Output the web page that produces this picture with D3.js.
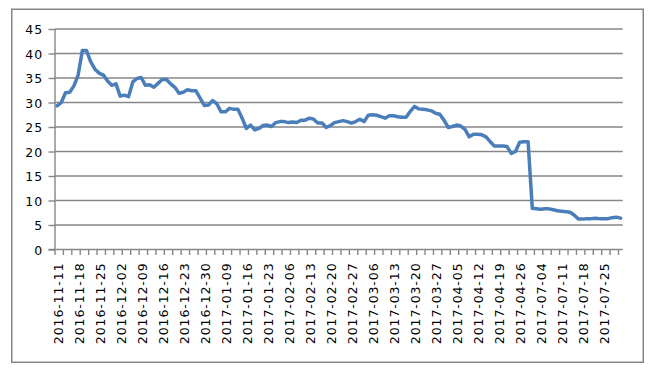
<!DOCTYPE html>
<html>
<head>
<meta charset="utf-8">
<script src="https://cdn.jsdelivr.net/npm/d3@7"></script>
<style>
  html, body { margin: 0; padding: 0; background: #fff; }
  svg { display: block; }
  text { font-family: "DejaVu Sans", Verdana, sans-serif; fill: #000; }
</style>
</head>
<body>
<svg id="chart" width="651" height="370"></svg>
<script>
const dates = [
  "2016-11-11",
  "2016-11-14","2016-11-15","2016-11-16","2016-11-17","2016-11-18",
  "2016-11-21","2016-11-22","2016-11-23","2016-11-24","2016-11-25",
  "2016-11-28","2016-11-29","2016-11-30","2016-12-01","2016-12-02",
  "2016-12-05","2016-12-06","2016-12-07","2016-12-08","2016-12-09",
  "2016-12-12","2016-12-13","2016-12-14","2016-12-15","2016-12-16",
  "2016-12-19","2016-12-20","2016-12-21","2016-12-22","2016-12-23",
  "2016-12-26","2016-12-27","2016-12-28","2016-12-29","2016-12-30",
  "2017-01-03","2017-01-04","2017-01-05","2017-01-06","2017-01-09",
  "2017-01-10","2017-01-11","2017-01-12","2017-01-13","2017-01-16",
  "2017-01-17","2017-01-18","2017-01-19","2017-01-20","2017-01-23",
  "2017-01-24","2017-01-25","2017-01-26","2017-02-03","2017-02-06",
  "2017-02-07","2017-02-08","2017-02-09","2017-02-10","2017-02-13",
  "2017-02-14","2017-02-15","2017-02-16","2017-02-17","2017-02-20",
  "2017-02-21","2017-02-22","2017-02-23","2017-02-24","2017-02-27",
  "2017-02-28","2017-03-01","2017-03-02","2017-03-03","2017-03-06",
  "2017-03-07","2017-03-08","2017-03-09","2017-03-10","2017-03-13",
  "2017-03-14","2017-03-15","2017-03-16","2017-03-17","2017-03-20",
  "2017-03-21","2017-03-22","2017-03-23","2017-03-24","2017-03-27",
  "2017-03-28","2017-03-29","2017-03-30","2017-03-31","2017-04-05",
  "2017-04-06","2017-04-07","2017-04-10","2017-04-11","2017-04-12",
  "2017-04-13","2017-04-14","2017-04-17","2017-04-18","2017-04-19",
  "2017-04-20","2017-04-21","2017-04-24","2017-04-25","2017-04-26",
  "2017-04-27","2017-04-28","2017-05-02","2017-07-03","2017-07-04",
  "2017-07-05","2017-07-06","2017-07-07","2017-07-10","2017-07-11",
  "2017-07-12","2017-07-13","2017-07-14","2017-07-17","2017-07-18",
  "2017-07-19","2017-07-20","2017-07-21","2017-07-24","2017-07-25",
  "2017-07-26","2017-07-27","2017-07-28","2017-07-31"
];

const values = [
  29.3, 30.0, 32.0, 32.1, 33.4, 35.6, 40.6, 40.6, 38.3, 36.8,
  36.0, 35.6, 34.4, 33.5, 33.8, 31.3, 31.5, 31.2, 34.2, 34.9,
  35.1, 33.5, 33.6, 33.1, 33.9, 34.7, 34.7, 33.8, 33.1, 31.9,
  32.1, 32.6, 32.4, 32.4, 30.9, 29.4, 29.5, 30.4, 29.7, 28.1,
  28.1, 28.8, 28.6, 28.6, 26.8, 24.7, 25.4, 24.4, 24.7, 25.3,
  25.4, 25.1, 25.9, 26.1, 26.1, 25.9, 26.0, 25.9, 26.4, 26.4,
  26.8, 26.6, 25.8, 25.8, 24.9, 25.3, 25.9, 26.1, 26.3, 26.1,
  25.8, 26.1, 26.6, 26.1, 27.4, 27.5, 27.4, 27.1, 26.8, 27.3,
  27.3, 27.1, 27.0, 27.0, 28.2, 29.2, 28.7, 28.6, 28.5, 28.3,
  27.8, 27.6, 26.4, 24.9, 25.1, 25.4, 25.2, 24.5, 23.0, 23.5,
  23.5, 23.4, 23.0, 22.0, 21.1, 21.1, 21.1, 21.0, 19.6, 20.0,
  21.9, 22.0, 22.0, 8.4, 8.3, 8.2, 8.3, 8.3, 8.1, 7.9,
  7.8, 7.7, 7.6, 7.0, 6.2, 6.2, 6.3, 6.3, 6.4, 6.3,
  6.3, 6.3, 6.5, 6.6, 6.4
];

const yTicks = [0, 5, 10, 15, 20, 25, 30, 35, 40, 45];
const labelEvery = 5;
const tickEvery = 2;

(function () {
const svg = d3.select("#chart");
const gray = "#868686";

// outer frame
svg.append("rect")
  .attr("x", 11.75).attr("y", 9.25)
  .attr("width", 631.5).attr("height", 353)
  .attr("fill", "#fff").attr("stroke", gray).attr("stroke-width", 1.5);

const pLeft = 55, pRight = 622.7, pTop = 29, pBottom = 249.5;

const x = d3.scaleBand().domain(d3.range(dates.length)).range([pLeft, pRight]).paddingInner(0).paddingOuter(0);
const y = d3.scaleLinear().domain([0, 45]).range([pBottom, pTop]);
const bw = x.bandwidth();

// gridlines
svg.append("g").selectAll("line").data(yTicks.filter(d => d > 0)).join("line")
  .attr("x1", pLeft).attr("x2", pRight)
  .attr("y1", d => y(d)).attr("y2", d => y(d))
  .attr("stroke", gray).attr("stroke-width", 1.4);

// y axis
const yAxis = d3.axisLeft(y).tickValues(yTicks).tickSize(6.5).tickPadding(6).tickFormat(d3.format("d"));
const gy = svg.append("g").attr("transform", `translate(${pLeft},0)`).call(yAxis);
gy.select(".domain").remove();
gy.selectAll(".tick line").attr("stroke", gray).attr("stroke-width", 1.4);
gy.selectAll(".tick text").attr("font-size", 12.5).attr("letter-spacing", 0.9)
  .attr("font-family", "DejaVu Sans").attr("fill", "#000").attr("x", -12).attr("dy", "0.36em");
svg.append("line").attr("x1", pLeft).attr("x2", pLeft).attr("y1", pTop).attr("y2", pBottom)
  .attr("stroke", gray).attr("stroke-width", 1.4);

// x axis baseline and ticks
svg.append("line").attr("x1", pLeft - 6.5).attr("x2", pRight).attr("y1", pBottom).attr("y2", pBottom)
  .attr("stroke", gray).attr("stroke-width", 1.4);
const tickIdx = d3.range(dates.length).filter(i => i % tickEvery === 0);
svg.append("g").selectAll("line").data(tickIdx).join("line")
  .attr("x1", i => x(i)).attr("x2", i => x(i))
  .attr("y1", pBottom).attr("y2", pBottom + 5.5)
  .attr("stroke", gray).attr("stroke-width", 1.4);

// x labels
const labIdx = d3.range(dates.length).filter(i => i % labelEvery === 0);
svg.append("g").selectAll("text").data(labIdx).join("text")
  .attr("transform", i => `translate(${x(i) + bw / 2 + 1.2},${pBottom + 13}) rotate(-90)`)
  .attr("text-anchor", "end")
  .attr("dy", "0.36em")
  .attr("font-size", 12.5)
  .attr("letter-spacing", 0.9)
  .text(i => dates[i]);

// line
const line = d3.line().x((d, i) => x(i) + bw / 2).y(d => y(d));
svg.append("path").datum(values)
  .attr("d", line)
  .attr("fill", "none")
  .attr("stroke", "#4A7EBB")
  .attr("stroke-width", 3.5)
  .attr("stroke-linejoin", "round")
  .attr("stroke-linecap", "round");
})();
</script>
</body>
</html>
